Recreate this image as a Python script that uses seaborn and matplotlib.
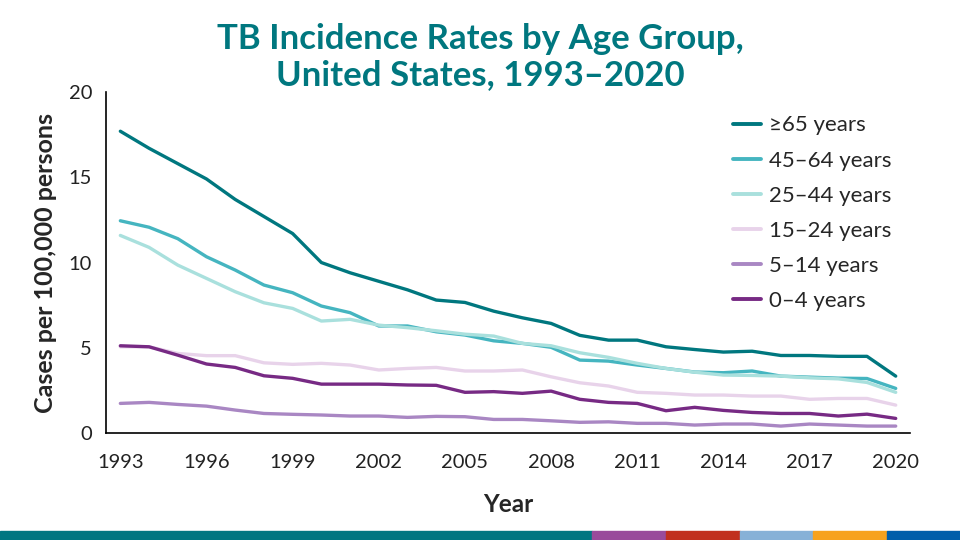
import numpy as np
import pandas as pd
import matplotlib
matplotlib.use("Agg")
import matplotlib.pyplot as plt
import seaborn as sns
from matplotlib.patches import Rectangle

# DATA
years = list(range(1993, 2021))
age_groups = ["≥65 years", "45–64 years", "25–44 years",
              "15–24 years", "5–14 years", "0–4 years"]

rate_65_plus = [17.7, 16.7, 15.8, 14.9, 13.7, 12.7, 11.7, 10.0, 9.4, 8.9,
                8.4, 7.8, 7.66, 7.15, 6.76, 6.43, 5.73, 5.45, 5.45, 5.06,
                4.9, 4.75, 4.8, 4.55, 4.55, 4.5, 4.5, 3.34]
rate_45_64 = [12.45, 12.07, 11.4, 10.34, 9.56, 8.68, 8.23, 7.45, 7.06, 6.28,
              6.28, 5.94, 5.75, 5.41, 5.26, 5.03, 4.28, 4.22, 3.99, 3.79,
              3.58, 3.54, 3.64, 3.34, 3.28, 3.22, 3.2, 2.62]
rate_25_44 = [11.59, 10.89, 9.85, 9.07, 8.29, 7.64, 7.31, 6.57, 6.67, 6.33,
              6.18, 6.0, 5.8, 5.69, 5.26, 5.12, 4.71, 4.44, 4.09, 3.79,
              3.57, 3.4, 3.38, 3.34, 3.24, 3.18, 2.97, 2.39]
rate_15_24 = [5.06, 5.06, 4.67, 4.54, 4.54, 4.12, 4.03, 4.09, 3.99, 3.7,
              3.79, 3.85, 3.64, 3.64, 3.7, 3.3, 2.95, 2.76, 2.39, 2.33,
              2.23, 2.23, 2.17, 2.17, 1.98, 2.03, 2.03, 1.64]
rate_5_14 = [1.74, 1.8, 1.68, 1.58, 1.35, 1.15, 1.1, 1.06, 1.0, 1.0,
             0.92, 0.98, 0.96, 0.8, 0.8, 0.72, 0.63, 0.66, 0.57, 0.57,
             0.47, 0.53, 0.53, 0.41, 0.53, 0.47, 0.41, 0.41]
rate_0_4 = [5.12, 5.06, 4.57, 4.05, 3.85, 3.36, 3.21, 2.87, 2.87, 2.87,
            2.82, 2.8, 2.39, 2.43, 2.33, 2.46, 1.98, 1.8, 1.74, 1.31,
            1.51, 1.33, 1.21, 1.15, 1.15, 1.0, 1.11, 0.86]

colors = ["#00777F", "#45B5C0", "#A9E0DD", "#E8D3EA", "#A987C3", "#772A84"]

series = [rate_65_plus, rate_45_64, rate_25_44, rate_15_24, rate_5_14, rate_0_4]
df = pd.concat([pd.DataFrame({"Year": years, "Rate": vals, "Age": grp})
                for grp, vals in zip(age_groups, series)], ignore_index=True)

sns.set_style("white")
plt.rcParams["font.family"] = ["Lato", "DejaVu Sans"]

fig = plt.figure(figsize=(9.6, 5.4), dpi=100)
ax = fig.add_axes([0.1104, 0.198, 0.8376, 0.6316])

sns.lineplot(data=df, x="Year", y="Rate", hue="Age", hue_order=age_groups,
             palette=colors, linewidth=2.4, ax=ax)

ax.set_xlim(1992.5, 2020.5)
ax.set_ylim(0, 20)
ax.set_xticks(range(1993, 2021, 3))
ax.set_xticks(np.arange(1992.5, 2021, 1), minor=True)
ax.tick_params(axis="x", which="major", length=0, labelsize=14.5, pad=15)
ax.tick_params(axis="x", which="minor", length=6, width=1.2, direction="out",
               color="black")
ax.set_yticks([0, 5, 10, 15, 20])
ax.tick_params(axis="y", length=6, width=1.2, direction="out", labelsize=14.5,
               color="black", pad=4)
for lab in ax.get_xticklabels() + ax.get_yticklabels():
    lab.set_color("#222222")

for side in ["top", "right"]:
    ax.spines[side].set_visible(False)
for side in ["left", "bottom"]:
    ax.spines[side].set_color("black")
    ax.spines[side].set_linewidth(1.2)

ax.set_xlabel("Year", fontsize=17.5, fontweight="bold", labelpad=16)
ax.set_ylabel("Cases per 100,000 persons", fontsize=18, fontweight="bold",
              labelpad=8)

leg = ax.legend(loc="upper left", bbox_to_anchor=(0.755, 0.99), frameon=False,
                fontsize=16, handlelength=1.25, handletextpad=0.35,
                labelspacing=0.68)
for line in leg.get_lines():
    line.set_linewidth(2.8)

fig.text(0.5, 0.895, "TB Incidence Rates by Age Group,\nUnited States, 1993–2020",
         ha="center", va="center", fontsize=25, fontweight="bold",
         color="#00777F", linespacing=1.15)

# bottom colour band
band = [(0, 592, "#007681"), (592, 666, "#994B9B"), (666, 740, "#C1301E"),
        (740, 813, "#87B1D7"), (813, 887, "#F7A21D"), (887, 960, "#005EAA")]
for x0, x1, c in band:
    fig.patches.append(Rectangle((x0 / 960, 0), (x1 - x0) / 960, 9 / 540,
                                 transform=fig.transFigure, color=c, zorder=5))

fig.savefig("out.png", dpi=100)
